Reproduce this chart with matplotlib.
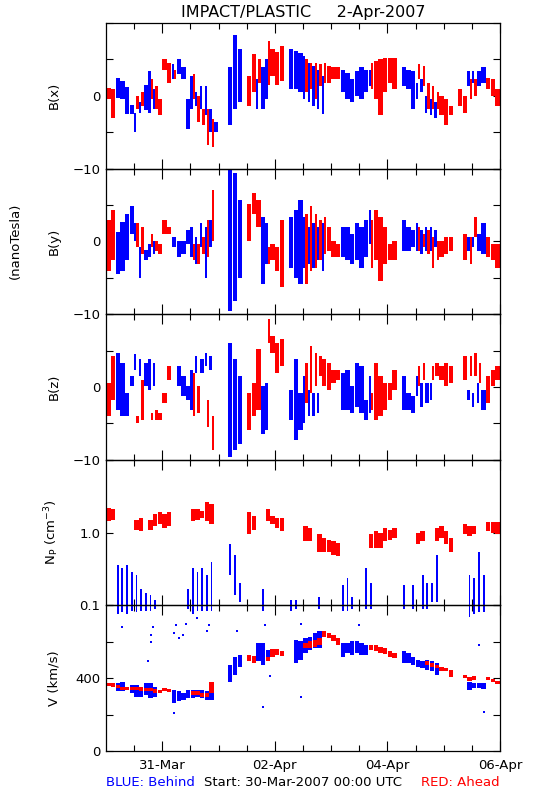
import numpy as np
import matplotlib
matplotlib.use("Agg")
import matplotlib.pyplot as plt

BLUE = "#0000ff"
RED = "#ff0000"

# time axis: hours since 30-Mar-2007 00:00 UTC
xtick_major = [24, 72, 120, 168]
xtick_labels = ["31-Mar", "02-Apr", "04-Apr", "06-Apr"]

# ---------------- B(x) [nT] -- (centre hour of 2-h bin, low, high)
bx_behind_t = [5, 7, 9, 11, 13, 15, 17, 19, 21, 29, 31, 33, 35, 37, 39, 41, 43, 45, 47, 53, 55, 57,
               65, 67, 69, 79, 81, 83, 85, 87, 89, 91, 93, 101, 103, 105, 107, 109, 111, 113,
               127, 129, 131, 133, 135, 137, 139, 141, 155, 157, 159, 161]
bx_behind_lo = [-0.3, -0.5, -2.5, -2.5, -5.0, -2.3, -2.0, -2.3, -1.8, 2.3, 3.0, 2.3, -4.5, -1.8, -1.4, -1.8, -2.7, -5.0, -5.0, -4.0, -1.8, -0.9,
                -1.8, -1.8, -0.5, 0.9, 0.9, 0.5, -0.5, -0.9, -1.4, -1.8, -2.5, 0.5, -0.5, -0.9, 0.0, -0.5, 0.5, 1.4,
                1.4, 0.9, -1.8, -0.5, 0.5, -2.3, -2.7, -3.0, 1.4, 1.8, 1.4, 1.8]
bx_behind_hi = [2.4, 2.0, 1.2, -1.2, -2.3, -0.9, 1.5, 3.4, 0.9, 4.3, 5.0, 4.0, -0.5, 2.7, 0.5, 1.4, 1.4, -1.8, -3.6, 4.0, 8.4, 6.4,
                2.3, 4.0, 5.0, 6.4, 6.1, 5.9, 5.5, 4.5, 4.1, 3.6, 2.7, 3.6, 3.2, 2.3, 3.4, 3.9, 3.6, 3.6,
                3.9, 3.6, 3.4, 1.8, 2.3, 0.0, -0.5, -0.9, 3.4, 3.4, 3.4, 3.9]
bx_ahead_t = [1, 3, 13, 15, 19, 21, 23, 25, 27, 29, 37, 39, 41, 43, 45, 61, 63, 65, 69, 71, 73, 75,
              85, 87, 89, 91, 93, 95, 97, 99, 113, 115, 117, 119, 121, 123, 133, 135, 137, 139, 141, 143,
              145, 147, 151, 153, 155, 157, 163, 165, 167]
bx_ahead_lo = [-0.5, -3.0, -1.8, -1.4, -0.5, -1.8, -2.7, 3.6, 1.8, 2.3, -0.5, -3.6, -4.0, -6.8, -7.0, -1.4, 0.5, 1.8, 1.5, 2.7, 1.5, 2.0,
               0.5, 0.9, -0.5, 1.4, 1.8, 1.8, 2.3, 2.3, 0.9, -0.5, -2.7, 0.5, 1.8, 0.9, 2.3, 1.4, -1.8, -1.8, -1.8, -2.7,
               -4.0, -2.7, -1.4, -2.3, -0.5, 0.0, 0.9, 0.0, -1.4]
bx_ahead_hi = [1.1, 0.9, 0.0, 0.5, 2.3, 1.4, -0.5, 5.0, 4.5, 3.6, 3.0, 0.0, -1.8, -1.8, -3.2, 2.7, 5.7, 5.0, 7.5, 6.4, 6.0, 6.8,
               5.0, 4.5, 4.5, 4.3, 4.5, 4.1, 3.9, 3.9, 4.5, 4.8, 5.0, 5.2, 5.2, 5.2, 4.3, 4.1, 1.8, 1.4, 0.5, 0.0,
               -0.5, -1.4, 0.9, 0.0, 2.3, 2.3, 2.5, 2.3, 0.9]

# ---------------- B(y) [nT]
by_behind_t = [5, 7, 9, 11, 13, 15, 17, 19, 21, 29, 31, 33, 35, 37, 39, 41, 43, 45, 53, 55, 57, 67, 69,
               79, 81, 83, 85, 87, 89, 91, 93, 101, 103, 105, 107, 109, 111, 113,
               127, 129, 131, 133, 135, 137, 139, 141, 155, 157, 159, 161]
by_behind_lo = [-4.5, -4.0, -2.6, 1.0, 0.1, -5.0, -2.6, -2.2, -1.7, -0.8, -2.2, -1.7, -0.3, -2.2, -3.1, -0.8, -5.0, -0.8, -9.6, -8.2, -5.0, -5.9, -3.1,
                -3.6, -5.0, -5.9, -3.6, -3.1, -3.6, -2.6, -4.0, -2.2, -2.6, -3.1, -2.6, -3.6, -2.2, -0.3,
                -1.3, -1.3, -0.8, -1.3, -1.7, -1.3, -1.3, -0.8, -1.3, -0.8, -1.3, -1.7]
by_behind_hi = [1.3, 2.7, 3.8, 4.8, 2.5, -0.8, -1.2, -0.3, 0.1, 0.6, 0.1, 0.1, 1.5, 2.0, 0.6, 2.5, 2.0, 2.9, 10.0, 9.4, 5.7, 3.4, 2.5,
                3.4, 4.3, 5.7, 3.4, 2.0, 2.5, 2.0, 2.5, 2.0, 2.0, 1.0, 2.5, 2.0, 2.9, 4.3,
                2.9, 2.0, 1.5, 2.5, 1.5, 2.0, 2.0, 1.5, 0.6, 0.6, 1.0, 2.5]
by_ahead_t = [1, 3, 13, 15, 19, 21, 23, 25, 27, 37, 39, 41, 43, 45, 61, 63, 65, 69, 71, 73, 75,
              85, 87, 89, 91, 93, 95, 97, 99, 113, 115, 117, 119, 121, 123,
              133, 135, 137, 139, 141, 143, 145, 147, 153, 155, 157, 163, 165, 167]
by_ahead_lo = [-4.0, -2.6, -0.8, -1.7, -0.8, -1.3, -1.7, 1.0, 1.0, -2.6, -3.1, -1.7, -2.2, 0.1, 0.1, 3.8, 2.0, -3.1, -2.6, -4.0, -6.3,
               -5.9, -4.0, -3.6, -2.6, -1.7, -1.3, -2.2, -2.2, -3.6, -2.6, -5.4, -3.1, -2.6, -2.6,
               -1.3, -0.8, -1.7, -3.6, -2.6, -2.2, -1.7, -1.3, -2.6, -3.1, 0.6, -2.2, -2.6, -3.6]
by_ahead_hi = [2.9, 4.3, 2.5, 2.0, 1.0, 0.1, -0.3, 2.9, 2.0, -0.3, -0.3, 0.6, 2.9, 7.0, 5.2, 6.6, 5.7, -0.8, -0.3, -0.8, 2.9,
               3.8, 4.8, 3.8, 2.9, 3.4, 2.0, 0.1, -0.3, 2.9, 4.3, 3.4, 2.0, -0.3, 0.1,
               2.0, 1.0, 1.5, 0.6, 0.1, 0.1, 0.6, 0.6, 1.0, 0.6, 3.4, 0.6, -0.3, -0.3]

# ---------------- B(z) [nT]
bz_behind_t = [5, 7, 9, 11, 13, 15, 17, 19, 21, 31, 33, 35, 37, 39, 41, 43, 45, 53, 55, 57, 67, 69,
               79, 81, 83, 85, 87, 89, 91, 101, 103, 105, 107, 109, 111, 113,
               127, 129, 131, 133, 135, 137, 139, 155, 157, 159, 161]
bz_behind_lo = [-3.1, -4.0, -4.0, 0.1, 2.4, 1.5, 0.1, -0.4, 0.1, 0.1, -1.3, -1.8, -3.1, 1.9, 1.9, 2.9, 2.4, -9.6, -8.7, -7.8, -6.4, -5.9,
                -4.5, -7.3, -5.9, -5.0, -4.0, -4.0, -3.6, -3.1, -3.1, -3.6, -2.7, -3.6, -4.5, -3.6,
                -3.1, -3.1, -3.6, -1.3, -2.7, -2.2, -1.8, -1.8, -2.7, -2.2, -3.1]
bz_behind_hi = [4.7, 3.3, -0.8, 1.5, 4.5, 3.8, 3.3, 3.8, 3.3, 2.9, 1.5, 0.1, 2.4, 4.3, 3.8, 4.7, 4.3, 6.1, 3.8, 1.5, 0.1, 0.6,
                -0.4, 3.8, -0.8, 1.5, -0.4, -0.8, -0.8, 1.9, 2.4, 0.1, 3.3, 2.9, -1.8, 1.5,
                1.5, -0.8, -1.3, 1.5, 0.6, 0.6, 0.6, -0.4, -0.8, 0.6, -0.4]
bz_ahead_t = [1, 3, 13, 15, 19, 21, 23, 25, 27, 37, 39, 43, 45, 61, 63, 65, 69, 71, 73, 75,
              85, 87, 89, 91, 93, 95, 97, 99, 113, 115, 117, 119, 121, 123,
              133, 135, 139, 141, 143, 145, 147, 153, 155, 157, 159, 163, 165, 167]
bz_ahead_lo = [-4.0, -1.8, -5.0, -4.5, -4.5, -4.5, -4.5, -2.2, 1.0, -4.0, -3.6, -5.5, -8.7, -5.9, -4.0, -3.1, 6.1, 4.7, 1.9, 2.9,
               -2.2, -0.8, 0.1, 1.5, 0.1, -0.4, 0.6, 1.0, -3.1, -4.5, -4.0, -3.1, -1.8, -0.4,
               0.1, 1.0, 1.0, 1.5, 1.0, 0.1, 0.6, 1.0, 1.5, 1.5, 0.6, -2.2, 0.1, 1.0]
bz_ahead_hi = [0.6, 4.3, -4.0, 1.0, -3.6, -3.1, -3.6, -0.8, 2.9, 1.9, 0.1, -1.8, -4.0, -0.8, 0.6, 5.2, 9.4, 7.0, 6.1, 6.6,
               3.3, 5.6, 4.7, 4.3, 3.8, 3.3, 2.4, 2.4, -0.8, 3.3, 1.5, 0.6, 0.6, 2.4,
               2.9, 3.3, 2.9, 3.3, 2.9, 3.3, 2.9, 4.3, 4.3, 4.7, 3.3, 1.5, 2.4, 2.9]

# ---------------- N_p [cm^-3]
np_behind_t = [5, 7, 9, 11, 13, 15, 17, 19, 21, 35, 37, 39, 41, 43, 45, 53, 55, 57, 67, 79, 81, 91,
               101, 103, 105, 111, 113, 127, 131, 135, 137, 139, 141, 155, 157, 159, 161]
np_behind_lo = [0.075, 0.08, 0.075, 0.085, 0.08, 0.085, 0.085, 0.085, 0.09, 0.09, 0.075, 0.085, 0.085, 0.085, 0.085, 0.26, 0.14, 0.11, 0.085, 0.085, 0.09, 0.09,
                0.085, 0.085, 0.09, 0.09, 0.09, 0.09, 0.09, 0.09, 0.09, 0.11, 0.11, 0.07, 0.075, 0.08, 0.08]
np_behind_hi = [0.36, 0.33, 0.36, 0.29, 0.26, 0.17, 0.15, 0.14, 0.12, 0.17, 0.33, 0.29, 0.33, 0.26, 0.40, 0.69, 0.50, 0.20, 0.17, 0.12, 0.12, 0.13,
                0.19, 0.24, 0.13, 0.33, 0.20, 0.19, 0.19, 0.26, 0.20, 0.20, 0.50, 0.26, 0.24, 0.55, 0.26]
np_ahead_t = [1, 3, 13, 15, 19, 21, 23, 25, 27, 37, 39, 41, 43, 45, 61, 63, 69, 71, 73, 75,
              85, 87, 91, 93, 95, 97, 99, 113, 115, 117, 119, 121, 123,
              133, 135, 141, 143, 145, 147, 153, 155, 157, 163, 165, 167]
np_ahead_lo = [1.45, 1.5, 1.1, 1.05, 1.1, 1.24, 1.3, 1.17, 1.24, 1.45, 1.5, 1.6, 1.45, 1.3, 0.95, 1.1, 1.45, 1.3, 1.17, 1.05,
               0.76, 0.76, 0.55, 0.55, 0.55, 0.5, 0.47, 0.62, 0.62, 0.62, 0.76, 0.8, 0.85,
               0.69, 0.76, 0.76, 0.85, 0.69, 0.55, 0.95, 0.9, 0.95, 1.05, 1.0, 0.95]
np_ahead_hi = [2.2, 2.1, 1.5, 1.6, 1.5, 1.8, 1.9, 1.8, 1.9, 2.1, 2.1, 2.0, 2.6, 2.5, 1.9, 1.7, 2.1, 1.7, 1.6, 1.6,
               1.24, 1.17, 0.95, 0.85, 0.8, 0.76, 0.72, 0.95, 1.05, 1.0, 1.17, 1.1, 1.17,
               1.0, 1.05, 1.17, 1.24, 1.05, 0.85, 1.3, 1.24, 1.24, 1.4, 1.4, 1.4]

# ---------------- V [km/s]
v_behind_t = [5, 7, 11, 13, 15, 17, 19, 21, 29, 31, 33, 35, 37, 39, 41, 43, 45, 53, 55, 57, 65, 67, 69,
              81, 83, 85, 87, 89, 91, 101, 103, 105, 107, 109, 111,
              127, 129, 131, 133, 135, 137, 139, 141, 155, 157, 159, 161]
v_behind_lo = [327, 327, 317, 299, 299, 308, 290, 299, 262, 272, 281, 290, 290, 299, 290, 281, 281, 381, 418, 464, 492, 473, 501,
               483, 501, 538, 556, 565, 565, 519, 538, 528, 538, 528, 528,
               483, 483, 473, 464, 455, 446, 437, 418, 336, 345, 345, 340]
v_behind_hi = [372, 381, 363, 363, 354, 372, 372, 354, 336, 327, 317, 336, 336, 336, 336, 327, 317, 473, 519, 528, 593, 593, 556,
               611, 602, 620, 629, 648, 657, 593, 593, 602, 602, 593, 583,
               547, 538, 519, 501, 492, 501, 492, 483, 381, 372, 372, 372]
v_behind_out_t = [7, 19, 19, 20, 18, 29, 30, 31, 33, 34, 39, 43, 44, 56, 68, 83, 108, 159, 161, 29, 67, 83, 70]
v_behind_out_v = [684, 600, 640, 680, 492, 650, 690, 620, 640, 700, 730, 660, 690, 657, 694, 700, 694, 583, 216, 207, 244, 299, 410]
v_ahead_t = [1, 3, 5, 7, 9, 11, 13, 15, 17, 19, 21, 23, 25, 27, 37, 39, 41, 43, 45, 61, 63, 69, 71, 73, 75,
             85, 87, 89, 91, 93, 95, 97, 99, 113, 115, 117, 119, 121, 123,
             137, 139, 141, 143, 145, 147, 153, 155, 157, 163, 165, 167]
v_ahead_lo = [358, 350, 345, 336, 336, 336, 336, 332, 327, 327, 321, 317, 327, 325, 308, 308, 299, 299, 317, 492, 483, 492, 519, 528, 523,
              565, 565, 574, 583, 629, 620, 602, 583, 556, 547, 538, 534, 519, 510,
              473, 464, 455, 442, 437, 409, 400, 387, 391, 391, 380, 369]
v_ahead_hi = [372, 372, 363, 354, 354, 354, 354, 350, 345, 345, 339, 336, 345, 340, 327, 327, 317, 320, 381, 528, 523, 519, 560, 560, 552,
              593, 602, 611, 620, 657, 651, 638, 620, 583, 583, 574, 565, 547, 538,
              492, 483, 473, 464, 455, 446, 418, 409, 413, 405, 395, 387]

panels = [
    dict(label="B(x)", b=(bx_behind_t, bx_behind_lo, bx_behind_hi), a=(bx_ahead_t, bx_ahead_lo, bx_ahead_hi),
         ylim=(-10, 10), yticks=[-10, -5, 0, 5, 10], ylabels=["\u221210", "", "0", "", ""], log=False, split=True, bw=1.85),
    dict(label="B(y)", b=(by_behind_t, by_behind_lo, by_behind_hi), a=(by_ahead_t, by_ahead_lo, by_ahead_hi),
         ylim=(-10, 10), yticks=[-10, -5, 0, 5, 10], ylabels=["\u221210", "", "0", "", ""], log=False, split=True, bw=1.85),
    dict(label="B(z)", b=(bz_behind_t, bz_behind_lo, bz_behind_hi), a=(bz_ahead_t, bz_ahead_lo, bz_ahead_hi),
         ylim=(-10, 10), yticks=[-10, -5, 0, 5, 10], ylabels=["\u221210", "", "0", "", ""], log=False, split=True, bw=1.85),
    dict(label=r"N$_\mathregular{P}$ (cm$^{\mathregular{-3}}$)", b=(np_behind_t, np_behind_lo, np_behind_hi),
         a=(np_ahead_t, np_ahead_lo, np_ahead_hi),
         ylim=(0.1, 10), yticks=[0.1, 1.0, 10], ylabels=["0.1", "1.0", ""], log=True, split=False, bw=0.8),
    dict(label="V (km/s)", b=(v_behind_t, v_behind_lo, v_behind_hi), a=(v_ahead_t, v_ahead_lo, v_ahead_hi),
         ylim=(0, 800), yticks=[0, 200, 400, 600, 800], ylabels=["0", "", "400", "", ""], log=False, split=False, bw=1.85),
]

plt.rcParams["font.family"] = ["DejaVu Sans"]
fig = plt.figure(figsize=(5.5, 8), dpi=100)
W, H = 550.0, 800.0
left_px, right_px = 106, 500
top_px, bot_px = 23, 751
ph = (bot_px - top_px) / 5.0
FS = 9.5

for k, p in enumerate(panels):
    y0 = top_px + k * ph
    ax = fig.add_axes([left_px / W, 1 - (y0 + ph) / H, (right_px - left_px) / W, ph / H])
    ax.patch.set_visible(False)
    if p["log"]:
        ax.set_yscale("log")
    series = ((p["b"], p["a"], BLUE, -0.5, p["bw"]), (p["a"], p["b"], RED, 0.5, 1.85))
    for (t, lo, hi), other, col, off, full_w in series:
        t = np.asarray(t, float); lo = np.asarray(lo, float); hi = np.asarray(hi, float)
        if p["split"]:
            shared = np.isin(t, np.asarray(other[0], float))
        else:
            shared = np.zeros(len(t), bool)
        x = np.where(shared, t + off, t)
        wid = np.where(shared, 1.0, full_w)
        ax.bar(x, hi - lo, bottom=lo, width=wid, color=col, linewidth=0,
               clip_on=not (p["log"] and col == BLUE), zorder=2 if col == BLUE else 3)
    if k == 4:
        ax.scatter(v_behind_out_t, v_behind_out_v, s=1.2, color=BLUE, marker="s", linewidths=0, zorder=2)
    ax.set_xlim(0, 168)
    ax.set_ylim(*p["ylim"])
    ax.set_yticks(p["yticks"])
    ax.set_yticklabels(p["ylabels"], fontsize=FS)
    ax.yaxis.set_minor_locator(matplotlib.ticker.NullLocator())
    ax.set_xticks(xtick_major)
    ax.set_xticks(np.arange(12, 168, 12), minor=True)
    if k == 4:
        ax.set_xticklabels(xtick_labels, fontsize=FS)
    else:
        ax.set_xticklabels([])
    ax.tick_params(axis="both", which="both", direction="in", top=True, right=True, width=0.8, color="black")
    ax.tick_params(axis="y", which="major", length=5, pad=4)
    ax.tick_params(axis="x", which="major", length=7, pad=6)
    ax.tick_params(axis="x", which="minor", length=4)
    for s in ax.spines.values():
        s.set_linewidth(0.9)
        s.set_zorder(5)
    ax.set_ylabel(p["label"], fontsize=FS)
    ax.yaxis.set_label_coords(-0.115, 0.5)

fig.text(303 / W, 1 - 12 / H, "IMPACT/PLASTIC     2-Apr-2007", ha="center", va="center", fontsize=11.5)
fig.text(15 / W, 1 - 241 / H, "(nanoTesla)", ha="center", va="center", rotation=90, fontsize=FS)
fig.text(106 / W, 1 - 782 / H, "BLUE: Behind", ha="left", va="center", color=BLUE, fontsize=FS)
fig.text(303 / W, 1 - 782 / H, "Start: 30-Mar-2007 00:00 UTC", ha="center", va="center", color="black", fontsize=FS)
fig.text(500 / W, 1 - 782 / H, "RED: Ahead", ha="right", va="center", color=RED, fontsize=FS)

fig.savefig("out.png", dpi=100, facecolor="white")
